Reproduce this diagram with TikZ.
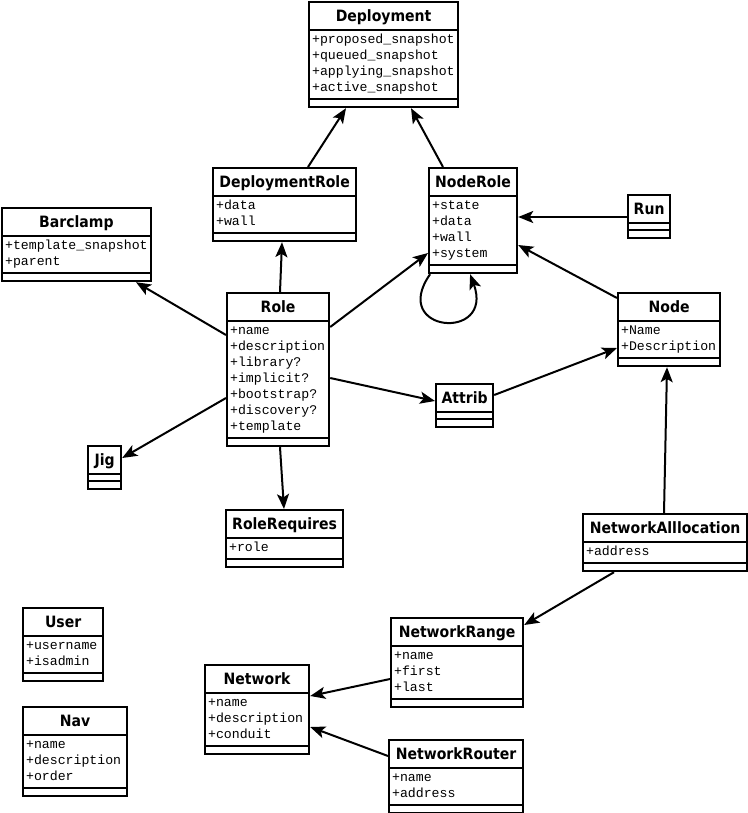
\documentclass[tikz,border=0pt]{standalone}
\usepackage{fontspec}
\usepackage{tikz}
\usetikzlibrary{arrows.meta,shapes.multipart,positioning}
\newfontfamily\titlefont{DejaVu Sans Condensed}
\newfontfamily\attrfont{Liberation Mono}

\newcommand{\classtitle}[1]{\rule[-6pt]{0pt}{23pt}{\titlefont\bfseries\fontsize{15.6}{16}\selectfont #1}}
\newcommand{\classattrs}[1]{{\attrfont\fontsize{13.2}{16}\selectfont\begin{tabular}{@{}l@{}}#1\end{tabular}}}
\newcommand{\noattrs}{\rule{0pt}{2pt}}
\newcommand{\nomethods}{\rule{0pt}{3pt}}

\tikzset{
	umlclass/.style={rectangle split, rectangle split parts=3,
		rectangle split part align={center,left,left},
		draw=black, line width=2.2pt, fill=white,
		inner xsep=3pt, inner ysep=1.4pt, anchor=north west},
	assoc/.style={-{Stealth[length=15pt,width=12pt,inset=3.5pt]}, line width=2pt}
}

\begin{document}
\begin{tikzpicture}
		[x=1pt, y=-1pt]
		
		\useasboundingbox (0, 0) rectangle (747, 813);
		
		% Deployment classes -------------------------------------
		\node[umlclass, minimum width=149pt] (deployment) at (308, 1)
		{\classtitle{Deployment}
		\nodepart{two}\classattrs{+proposed\_snapshot\\+queued\_snapshot\\+applying\_snapshot\\+active\_snapshot}
		\nodepart{three}\nomethods};
		
		\node[umlclass, minimum width=143pt] (deploymentrole) at (212, 167)
		{\classtitle{DeploymentRole}
		\nodepart{two}\classattrs{+data\\+wall}
		\nodepart{three}\nomethods};
		
		\node[umlclass, minimum width=88pt] (noderole) at (428, 167)
		{\classtitle{NodeRole}
		\nodepart{two}\classattrs{+state\\+data\\+wall\\+system}
		\nodepart{three}\nomethods};
		
		% Role classes -------------------------------------------
		\node[umlclass, minimum width=148pt] (barclamp) at (1, 207)
		{\classtitle{Barclamp}
		\nodepart{two}\classattrs{+template\_snapshot\\+parent}
		\nodepart{three}\nomethods};
		
		\node[umlclass, minimum width=102pt] (role) at (226, 292)
		{\classtitle{Role}
		\nodepart{two}\classattrs{+name\\+description\\+library?\\+implicit?\\+bootstrap?\\+discovery?\\+template}
		\nodepart{three}\nomethods};
		
		\node[umlclass, minimum width=33pt] (jig) at (87, 445)
		{\classtitle{Jig}
		\nodepart{two}\noattrs
		\nodepart{three}\nomethods};
		
		\node[umlclass, minimum width=117pt] (rolerequires) at (225, 509)
		{\classtitle{RoleRequires}
		\nodepart{two}\classattrs{+role}
		\nodepart{three}\nomethods};
		
		% Node classes -------------------------------------------
		\node[umlclass, minimum width=42pt] (run) at (627, 194)
		{\classtitle{Run}
		\nodepart{two}\noattrs
		\nodepart{three}\nomethods};
		
		\node[umlclass, minimum width=102pt] (node) at (617, 292)
		{\classtitle{Node}
		\nodepart{two}\classattrs{+Name\\+Description}
		\nodepart{three}\nomethods};
		
		\node[umlclass, minimum width=57pt] (attrib) at (435, 383)
		{\classtitle{Attrib}
		\nodepart{two}\noattrs
		\nodepart{three}\nomethods};
		
		% Network classes ----------------------------------------
		\node[umlclass, minimum width=164pt] (networkallocation) at (582, 513)
		{\classtitle{NetworkAlllocation}
		\nodepart{two}\classattrs{+address}
		\nodepart{three}\nomethods};
		
		\node[umlclass, minimum width=132pt] (networkrange) at (390, 617)
		{\classtitle{NetworkRange}
		\nodepart{two}\classattrs{+name\\+first\\+last}
		\nodepart{three}\nomethods};
		
		\node[umlclass, minimum width=104pt] (network) at (204, 664)
		{\classtitle{Network}
		\nodepart{two}\classattrs{+name\\+description\\+conduit}
		\nodepart{three}\nomethods};
		
		\node[umlclass, minimum width=134pt] (networkrouter) at (388, 739)
		{\classtitle{NetworkRouter}
		\nodepart{two}\classattrs{+name\\+address}
		\nodepart{three}\nomethods};
		
		% User classes -------------------------------------------
		\node[umlclass, minimum width=80pt] (user) at (22, 607)
		{\classtitle{User}
		\nodepart{two}\classattrs{+username\\+isadmin}
		\nodepart{three}\nomethods};
		
		\node[umlclass, minimum width=104pt] (nav) at (22, 706)
		{\classtitle{Nav}
		\nodepart{two}\classattrs{+name\\+description\\+order}
		\nodepart{three}\nomethods};
		
		% associations -------------------------------------------
		\draw[assoc] ([xshift=96pt]deploymentrole.north west) -- ([xshift=38pt]deployment.south west);
		\draw[assoc] ([xshift=15pt]noderole.north west) -- ([xshift=103pt]deployment.south west);
		\draw[assoc] ([xshift=54pt]role.north west) -- ([xshift=70pt]deploymentrole.south west);
		\draw[assoc] ([yshift=-35pt]role.north east) -- ([yshift=-86pt]noderole.north west);
		\draw[assoc] ([xshift=-43pt]noderole.south) to[out=235, in=290, looseness=4.6] ([xshift=-3pt]noderole.south);
		\draw[assoc] ([yshift=-23pt]run.north west) -- ([yshift=-50pt]noderole.north east);
		\draw[assoc] ([yshift=-6pt]node.north west) -- ([yshift=-78pt]noderole.north east);
		\draw[assoc] ([yshift=-12pt]attrib.north east) -- ([yshift=-56pt]node.north west);
		\draw[assoc] ([yshift=-86pt]role.north east) -- ([yshift=-18pt]attrib.north west);
		\draw[assoc] ([yshift=-43pt]role.north west) -- ([xshift=135pt]barclamp.south west);
		\draw[assoc] ([yshift=-106pt]role.north west) -- ([yshift=-13pt]jig.north east);
		\draw[assoc] ([xshift=54pt]role.south west) -- ([xshift=59pt]rolerequires.north west);
		\draw[assoc] ([xshift=82pt]networkallocation.north west) -- ([xshift=50pt]node.south west);
		\draw[assoc] ([xshift=32pt]networkallocation.south west) -- ([yshift=-8pt]networkrange.north east);
		\draw[assoc] ([yshift=-62pt]networkrange.north west) -- ([yshift=-32pt]network.north east);
		\draw[assoc] ([yshift=-17pt]networkrouter.north west) -- ([yshift=-63pt]network.north east);
\end{tikzpicture}
\end{document}
